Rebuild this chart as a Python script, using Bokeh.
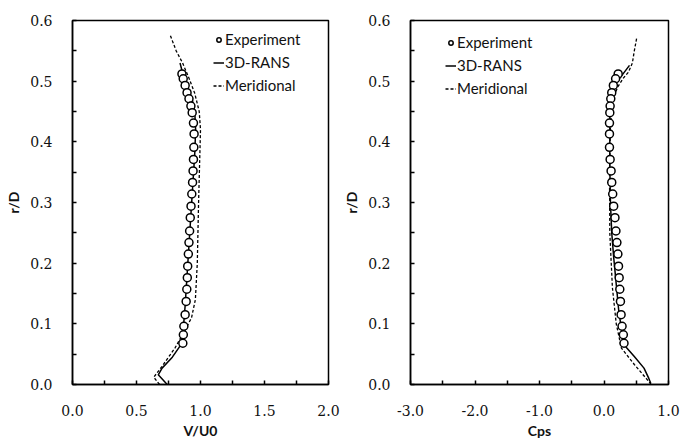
from bokeh.plotting import figure
from bokeh.models import Range1d, FixedTicker, PrintfTickFormatter, Legend, LegendItem
from bokeh.layouts import row
from bokeh.embed import file_html
from bokeh.resources import INLINE

# ---------------- data ----------------
r_ticks = [0.0, 0.1, 0.2, 0.3, 0.4, 0.5, 0.6]
r_minor = [0.05, 0.15, 0.25, 0.35, 0.45, 0.55]
v_ticks = [0.0, 0.5, 1.0, 1.5, 2.0]
v_minor = [0.25, 0.75, 1.25, 1.75]
cps_ticks = [-3.0, -2.0, -1.0, 0.0, 1.0]
cps_minor = [-2.5, -1.5, -0.5, 0.5]

# experiment radial positions (shared by both panels)
r_exp = [0.512, 0.504, 0.493, 0.481, 0.471, 0.459, 0.448, 0.431, 0.413, 0.391,
         0.371, 0.352, 0.333, 0.314, 0.294, 0.275, 0.253, 0.234, 0.215, 0.195,
         0.176, 0.157, 0.137, 0.115, 0.096, 0.082, 0.068]
v_exp = [0.855, 0.865, 0.880, 0.895, 0.910, 0.925, 0.935, 0.945, 0.950, 0.948,
         0.945, 0.942, 0.938, 0.932, 0.926, 0.920, 0.915, 0.910, 0.905, 0.900,
         0.897, 0.893, 0.888, 0.880, 0.870, 0.866, 0.862]
cps_exp = [0.22, 0.18, 0.145, 0.12, 0.105, 0.095, 0.09, 0.085, 0.085, 0.085,
           0.095, 0.11, 0.12, 0.135, 0.15, 0.17, 0.185, 0.2, 0.215, 0.225,
           0.235, 0.245, 0.255, 0.265, 0.28, 0.30, 0.31]

# 3D-RANS, velocity panel
v_rans = [0.74, 0.67, 0.70, 0.78, 0.845, 0.865, 0.88, 0.895, 0.91, 0.925, 0.94,
          0.955, 0.962, 0.955, 0.935, 0.90, 0.865, 0.84]
r_v_rans = [0.0, 0.016, 0.027, 0.045, 0.065, 0.09, 0.13, 0.18, 0.23, 0.28, 0.33,
            0.38, 0.42, 0.45, 0.47, 0.49, 0.51, 0.53]
# Meridional, velocity panel
v_mer = [0.68, 0.635, 0.70, 0.80, 0.88, 0.93, 0.96, 0.975, 0.985, 0.995, 1.0,
         0.99, 0.955, 0.91, 0.86, 0.81, 0.765]
r_v_mer = [0.0, 0.012, 0.03, 0.06, 0.09, 0.11, 0.14, 0.2, 0.3, 0.38, 0.42,
           0.45, 0.48, 0.505, 0.53, 0.55, 0.575]

# 3D-RANS, pressure panel
cps_rans = [0.725, 0.695, 0.62, 0.47, 0.33, 0.28, 0.23, 0.19, 0.15, 0.12, 0.10,
            0.09, 0.09, 0.11, 0.15, 0.26, 0.395]
r_c_rans = [0.002, 0.01, 0.027, 0.046, 0.063, 0.085, 0.12, 0.165, 0.21, 0.25, 0.3,
            0.36, 0.44, 0.475, 0.494, 0.507, 0.526]
# Meridional, pressure panel
cps_mer = [0.73, 0.67, 0.47, 0.27, 0.19, 0.13, 0.09, 0.085, 0.10, 0.14, 0.21,
           0.30, 0.38, 0.44, 0.47, 0.505]
r_c_mer = [0.0, 0.008, 0.033, 0.06, 0.1, 0.16, 0.25, 0.35, 0.43, 0.47, 0.49,
           0.505, 0.515, 0.53, 0.55, 0.57]

TICK_FONT = "DejaVu Serif"
TEXT_FONT = "Lato"


def make_panel(xr, xticks, xminor, xlabel, width, mbl, mbr, x_exp, xr_line, yr_line,
               xm_line, ym_line, legend_loc):
    p = figure(width=width, height=441, x_range=Range1d(*xr), y_range=Range1d(0, 0.6),
               output_backend="svg", toolbar_location=None,
               min_border_left=mbl, min_border_right=mbr, min_border_top=20,
               min_border_bottom=57)
    p.xgrid.visible = False
    p.ygrid.visible = False
    p.outline_line_color = "black"
    p.outline_line_width = 1.5
    p.background_fill_color = "white"
    p.border_fill_color = "white"

    p.xaxis.ticker = FixedTicker(ticks=xticks, minor_ticks=xminor)
    p.yaxis.ticker = FixedTicker(ticks=r_ticks, minor_ticks=r_minor)
    p.xaxis.formatter = PrintfTickFormatter(format="%.1f")
    p.yaxis.formatter = PrintfTickFormatter(format="%.1f")
    for ax in (p.xaxis, p.yaxis):
        ax.axis_line_width = 1.5
        ax.axis_line_color = "black"
        ax.major_tick_in = 4
        ax.major_tick_out = 0
        ax.minor_tick_in = 4
        ax.minor_tick_out = 0
        ax.major_tick_line_width = 1.5
        ax.minor_tick_line_width = 1.5
        ax.major_tick_line_color = "black"
        ax.minor_tick_line_color = "black"
        ax.major_label_text_font = TICK_FONT
        ax.major_label_text_font_size = "14px"
        ax.major_label_text_color = "#111111"
        ax.axis_label_text_font = TEXT_FONT
        ax.axis_label_text_font_style = "bold"
        ax.axis_label_text_font_size = "14px"
        ax.axis_label_text_color = "#111111"
    p.xaxis.axis_label = xlabel
    p.yaxis.axis_label = "r/D"
    p.xaxis.major_label_standoff = 20
    p.xaxis.axis_label_standoff = 3
    p.yaxis.major_label_standoff = 20
    p.yaxis.axis_label_standoff = 5

    l1 = p.line(xr_line, yr_line, line_color="black", line_width=1.5)
    l2 = p.line(xm_line, ym_line, line_color="black", line_width=1.3, line_dash="3 2")
    sc = p.scatter(x_exp, r_exp, marker="circle", size=8, line_color="black",
                   line_width=1.5, fill_color="white")

    legend = Legend(items=[LegendItem(label="Experiment", renderers=[sc]),
                           LegendItem(label="3D-RANS", renderers=[l1]),
                           LegendItem(label="Meridional", renderers=[l2])],
                    location=legend_loc, orientation="vertical")
    legend.glyph_width = 11
    legend.glyph_height = 13
    legend.label_height = 20
    legend.label_standoff = 1
    legend.spacing = 3
    legend.padding = 0
    legend.margin = 0
    legend.border_line_alpha = 0
    legend.background_fill_alpha = 0
    legend.label_text_font = TEXT_FONT
    legend.label_text_font_size = "15px"
    legend.label_text_color = "#111111"
    p.add_layout(legend)
    return p


p1 = make_panel((0, 2), v_ticks, v_minor, "V/U0", 340, 72, 12, v_exp,
                v_rans, r_v_rans, v_mer, r_v_mer, (141, 289))
p2 = make_panel((-3, 1), cps_ticks, cps_minor, "Cps", 340, 67, 12, cps_exp,
                cps_rans, r_c_rans, cps_mer, r_c_mer, (35, 286))

layout = row(p1, p2)
open("out.html", "w").write(file_html(layout, INLINE))
